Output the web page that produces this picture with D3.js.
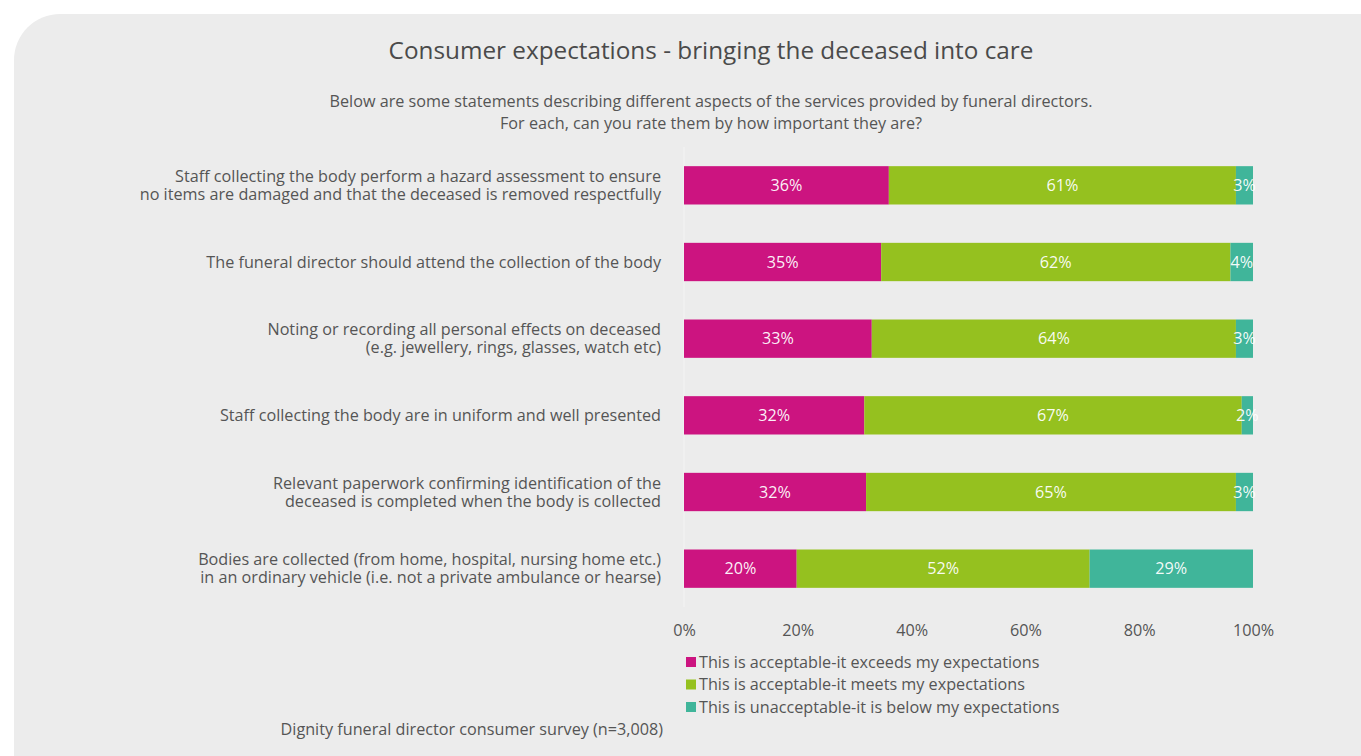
<!DOCTYPE html>
<html>
<head>
<meta charset="utf-8">
<script src="https://cdn.jsdelivr.net/npm/d3@7"></script>
<style>
  html, body { margin: 0; padding: 0; background: #ffffff; }
  svg { display: block; font-family: "Open Sans", "Noto Sans", sans-serif; }
</style>
</head>
<body>
<svg id="chart" width="1361" height="756"></svg>
<script>
// Survey statements (each entry split into display lines)
const categories = [
  ["Staff collecting the body perform a hazard assessment to ensure", "no items are damaged and that the deceased is removed respectfully"],
  ["The funeral director should attend the collection of the body"],
  ["Noting or recording all personal effects on deceased", "(e.g. jewellery, rings, glasses, watch etc)"],
  ["Staff collecting the body are in uniform and well presented"],
  ["Relevant paperwork confirming identification of the", "deceased is completed when the body is collected"],
  ["Bodies are collected (from home, hospital, nursing home etc.)", "in an ordinary vehicle (i.e. not a private ambulance or hearse)"]
];

const seriesNames = [
  "This is acceptable-it exceeds my expectations",
  "This is acceptable-it meets my expectations",
  "This is unacceptable-it is below my expectations"
];

// Percentages per statement, one array per response
const exceeds = [36, 35, 33, 32, 32, 20];
const meets   = [61, 62, 64, 67, 65, 52];
const below   = [3, 4, 3, 2, 3, 29];

const tickValues = [0, 0.2, 0.4, 0.6, 0.8, 1];
const tickLabels = ["0%", "20%", "40%", "60%", "80%", "100%"];

const colors = ["#cc1480", "#95c11f", "#40b59a"];

const title = "Consumer expectations - bringing the deceased into care";
const subtitle = [
  "Below are some statements describing different aspects of the services provided by funeral directors.",
  "For each, can you rate them by how important they are?"
];
const source = "Dignity funeral director consumer survey (n=3,008)";

// ---- layout ----
const svg = d3.select("#chart");
const textColor = "#555555";
const fs = 16.2;

// card background
svg.append("rect")
  .attr("x", 14).attr("y", 14)
  .attr("width", 1400).attr("height", 800)
  .attr("rx", 46).attr("ry", 46)
  .attr("fill", "#ececec");

svg.append("text")
  .attr("x", 711).attr("y", 59)
  .attr("text-anchor", "middle")
  .attr("font-size", 24.3)
  .attr("fill", "#4a4a4a")
  .text(title);

svg.append("g").selectAll("text").data(subtitle).join("text")
  .attr("x", 711).attr("y", (d, i) => 107 + i * 22)
  .attr("text-anchor", "middle")
  .attr("font-size", fs)
  .attr("fill", textColor)
  .text(d => d);

// table for stacking
const rows = categories.map((c, i) => ({ idx: i, exceeds: exceeds[i], meets: meets[i], below: below[i] }));
const keys = ["exceeds", "meets", "below"];
const stacked = d3.stack().keys(keys).offset(d3.stackOffsetExpand)(rows);

const x = d3.scaleLinear().domain([0, 1]).range([684, 1253]);
const y = d3.scaleBand().domain(d3.range(categories.length)).range([147, 607]).paddingInner(0.5).paddingOuter(0.25);

// faint baseline
svg.append("line")
  .attr("x1", x(0)).attr("x2", x(0))
  .attr("y1", 147).attr("y2", 607)
  .attr("stroke", "#f4f4f4").attr("stroke-width", 1);

const layers = svg.append("g").selectAll("g").data(stacked).join("g")
  .attr("fill", (d, i) => colors[i]);

layers.selectAll("rect").data(d => d).join("rect")
  .attr("x", d => x(d[0]))
  .attr("y", d => y(d.data.idx))
  .attr("width", d => x(d[1]) - x(d[0]))
  .attr("height", y.bandwidth());

// value labels centred in each segment
stacked.forEach(layer => {
  svg.append("g").selectAll("text").data(layer).join("text")
    .attr("x", d => (x(d[0]) + x(d[1])) / 2)
    .attr("y", d => y(d.data.idx) + y.bandwidth() / 2)
    .attr("dy", "0.35em")
    .attr("text-anchor", "middle")
    .attr("font-size", fs)
    .attr("fill", "#ffffff")
    .attr("fill-opacity", 0.95)
    .text(d => d.data[layer.key] + "%");
});

// category labels
const catG = svg.append("g");
categories.forEach((lines, i) => {
  const cy = y(i) + y.bandwidth() / 2;
  const lh = 18;
  const t = catG.append("text")
    .attr("text-anchor", "end")
    .attr("font-size", fs)
    .attr("fill", textColor);
  lines.forEach((ln, j) => {
    t.append("tspan")
      .attr("x", 661)
      .attr("y", cy + (j - (lines.length - 1) / 2) * lh)
      .attr("dy", "0.35em")
      .text(ln);
  });
});

// x axis
const axis = d3.axisBottom(x).tickValues(tickValues).tickFormat((d, i) => tickLabels[i]).tickSize(0).tickPadding(0);
const axG = svg.append("g").attr("transform", "translate(0,624)").call(axis);
axG.select(".domain").remove();
axG.selectAll("text")
  .attr("font-size", fs)
  .attr("fill", textColor)
  .attr("font-family", "\"Open Sans\", sans-serif")
  .attr("dy", "0.71em");

// legend
const leg = svg.append("g").selectAll("g").data(seriesNames).join("g")
  .attr("transform", (d, i) => `translate(686, ${662 + i * 22.5})`);
leg.append("rect")
  .attr("x", 0).attr("y", -5)
  .attr("width", 10).attr("height", 10)
  .attr("fill", (d, i) => colors[i]);
leg.append("text")
  .attr("x", 13).attr("dy", "0.35em")
  .attr("font-size", fs)
  .attr("fill", textColor)
  .text(d => d);

svg.append("text")
  .attr("x", 663).attr("y", 729)
  .attr("dy", "0.35em")
  .attr("text-anchor", "end")
  .attr("font-size", fs)
  .attr("fill", textColor)
  .text(source);
</script>
</body>
</html>
